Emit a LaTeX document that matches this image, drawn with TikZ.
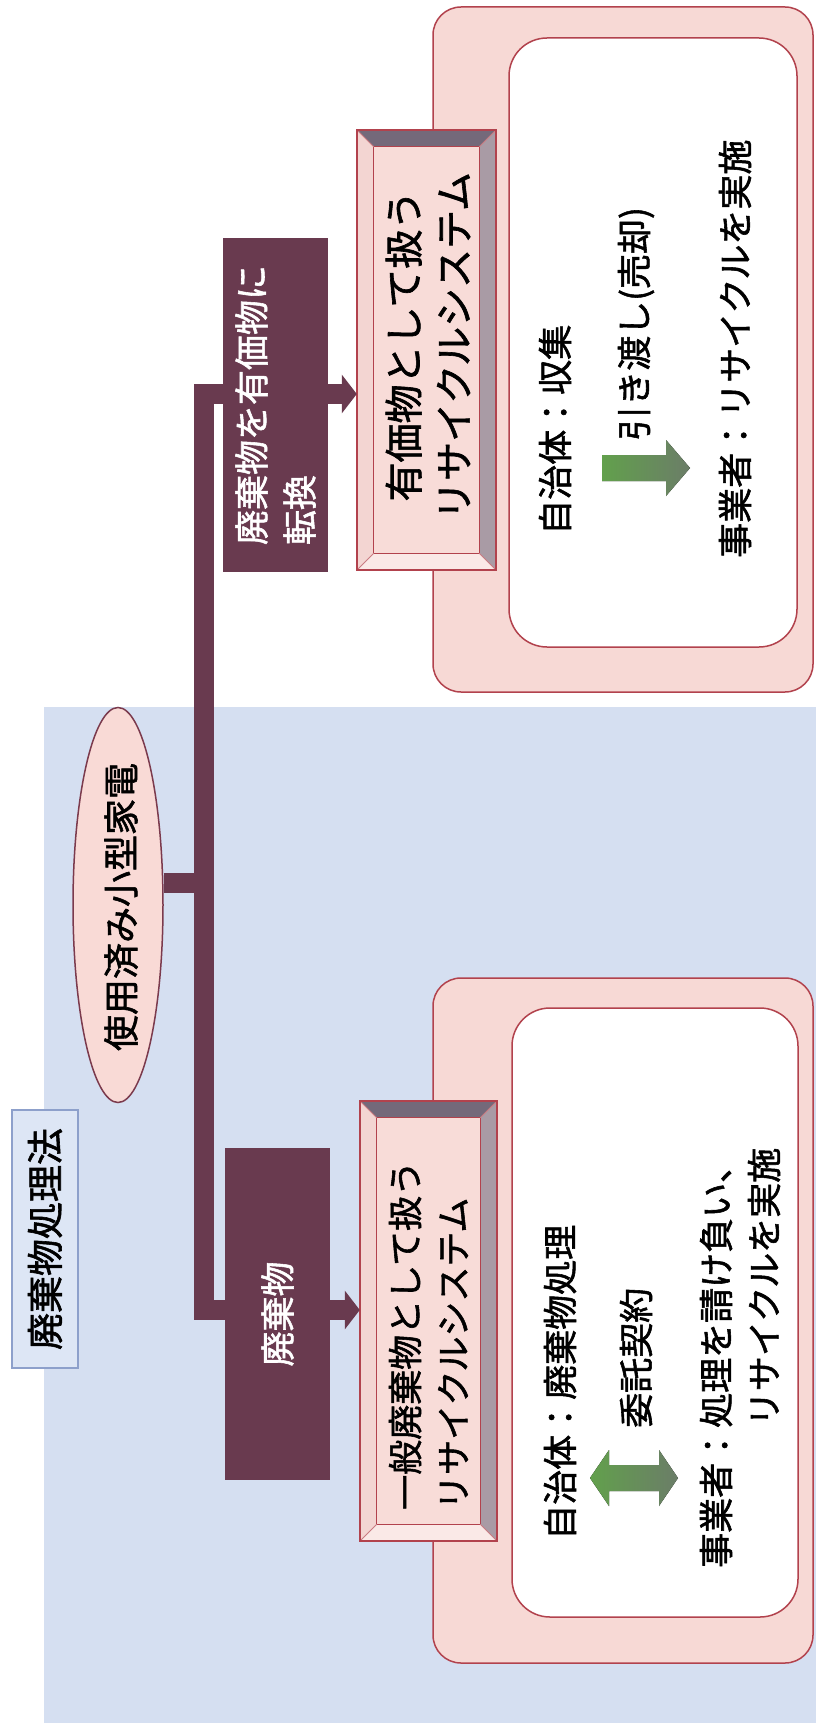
\documentclass[tikz,border=0pt]{standalone}
\usepackage{fontspec}
\setmainfont{Noto Sans CJK JP}[FakeBold=1.6]
\usetikzlibrary{arrows.meta,shapes.geometric,calc}
\definecolor{bgblue}{HTML}{D5DFF1}
\definecolor{titlefill}{HTML}{DDE6F5}
\definecolor{titledraw}{HTML}{8DA0CB}
\definecolor{maroon}{HTML}{693A4F}
\definecolor{pinkfill}{HTML}{F7D9D5}
\definecolor{redline}{HTML}{B2424D}
\definecolor{ellfill}{HTML}{F9DAD6}
\definecolor{elldraw}{HTML}{7B3A4D}
\definecolor{bevtop}{HTML}{74697A}
\definecolor{bevright}{HTML}{A99BA5}
\definecolor{bevleft}{HTML}{F3D5D2}
\definecolor{bevbot}{HTML}{FAE9E7}
\definecolor{facepink}{HTML}{F8DCD8}
\definecolor{greenA}{HTML}{62A04C}
\definecolor{greenB}{HTML}{6B7D68}
\newcommand\bevelbox[1]{%
 \fill[bevtop] (#1.north west) -- (#1.north east) -- ([shift={(-17,17)}]#1.north east) -- ([shift={(17,17)}]#1.north west) -- cycle;
 \fill[bevright] (#1.north east) -- (#1.south east) -- ([shift={(-17,-17)}]#1.south east) -- ([shift={(-17,17)}]#1.north east) -- cycle;
 \fill[bevbot] (#1.south west) -- (#1.south east) -- ([shift={(-17,-17)}]#1.south east) -- ([shift={(17,-17)}]#1.south west) -- cycle;
 \fill[bevleft] (#1.north west) -- (#1.south west) -- ([shift={(17,-17)}]#1.south west) -- ([shift={(17,17)}]#1.north west) -- cycle;
 \draw[redline, line width=1] ([shift={(17,17)}]#1.north west) rectangle ([shift={(-17,-17)}]#1.south east);
 \draw[redline!70, line width=0.8] (#1.north west) -- ++(17,17) (#1.north east) -- ++(-17,17) (#1.south west) -- ++(17,-17) (#1.south east) -- ++(-17,-17);
 \draw[redline, line width=1.5] (#1.north west) rectangle (#1.south east);
}
\begin{document}
\begin{tikzpicture}[x=1pt,y=-1pt,
  txt/.style={rotate=90, inner sep=0, font=\fontsize{35}{48}\selectfont},
  darkbox/.style={fill=maroon, text=white, rotate=90, inner sep=0, align=left, font=\fontsize{35}{48}\selectfont},
  bar/.style={draw=maroon, line width=20pt, line join=miter},
  tip/.style={-{Triangle[width=38pt,length=15pt]}},
  outerbox/.style={draw=redline, fill=pinkfill, rounded corners=28pt, line width=1.5pt, inner sep=0},
  innerbox/.style={draw=redline, fill=white, rounded corners=38pt, line width=1.5pt, inner sep=0},
  sysbox/.style={rectangle, fill=facepink, inner sep=0},
  greenarrow/.style={left color=greenA, right color=greenB, draw=none}]
\useasboundingbox (0,0) rectangle (816,1731);
\fill[white] (0,0) rectangle (816,1731);
% blue background
\fill[bgblue] (44,707) rectangle (816,1723);
% title
\node[draw=titledraw, fill=titlefill, line width=2.5pt, minimum width=66, minimum height=258, inner sep=0] (title) at (45,1239) {};
\node[txt, font=\fontsize{37}{40}\selectfont] (titletext) at (title.center) {廃棄物処理法};
% outer and inner rounded boxes
\node[outerbox, minimum width=380, minimum height=685] (outer1) at (623,349.5) {};
\node[innerbox, minimum width=288, minimum height=609] (inner1) at (653,342.5) {};
\node[outerbox, minimum width=380, minimum height=685] (outer2) at (623,1320.5) {};
\node[innerbox, minimum width=286, minimum height=609] (inner2) at (655,1312.5) {};
% bevel boxes
\node[sysbox, minimum width=139, minimum height=440] (sys1) at (426.5,350) {};
\bevelbox{sys1}
\node[sysbox, minimum width=137, minimum height=440] (sys2) at (428.5,1321) {};
\bevelbox{sys2}
\node[txt, align=center, font=\fontsize{39}{50}\selectfont] (sys1text) at (428,346) {有価物として扱う\\リサイクルシステム};
\node[txt, anchor=west, align=left] (sys2text) at (428.5,1510) {一般廃棄物として扱う\\リサイクルシステム};
% ellipse
\node[ellipse, draw=elldraw, fill=ellfill, line width=1.5pt, minimum width=90, minimum height=395, inner sep=0] (src) at (118,905) {};
\node[txt, font=\fontsize{36}{40}\selectfont] (srctext) at (121,907) {使用済み小型家電};
% connectors
\coordinate (j) at (204,883);
\coordinate (j1) at (204,394);
\coordinate (j2) at (204,1310);
\draw[bar] (j -| src.east) -- (j);
\draw[bar, tip] (j) -- (j1) -- (j1 -| sys1.west);
\draw[bar, tip] (j) -- (j2) -- (j2 -| sys2.west);
% dark boxes
\node[darkbox, minimum width=334, minimum height=105] (lab1) at (275.5,405) {廃棄物を有価物に\\転換};
\node[darkbox, minimum width=332, minimum height=105] (lab2) at (277.5,1314) {廃棄物};
% top inner box content
\node[txt, anchor=west] (a1) at (555,535) {自治体：収集};
\fill[greenarrow] (602,455) -- (666,455) -- (666,440) -- (690,468) -- (666,496) -- (666,481) -- (602,481) -- cycle;
\node[txt, anchor=west] (h1) at (636,441) {引き渡し(売却)};
\node[txt, anchor=west] (b1) at (735,558) {事業者：リサイクルを実施};
% lower inner box content
\node[txt, anchor=west] (a2) at (560,1540) {自治体：廃棄物処理};
\fill[greenarrow] (590,1478) -- (609,1450) -- (609,1465) -- (659,1465) -- (659,1450) -- (678,1478) -- (659,1506) -- (659,1491) -- (609,1491) -- (609,1506) -- cycle;
\node[txt, anchor=west] (h2) at (636,1428) {委託契約};
\node[txt, anchor=west, align=right] (b2) at (740,1568) {事業者：処理を請け負い、\\リサイクルを実施};
\end{tikzpicture}
\end{document}
